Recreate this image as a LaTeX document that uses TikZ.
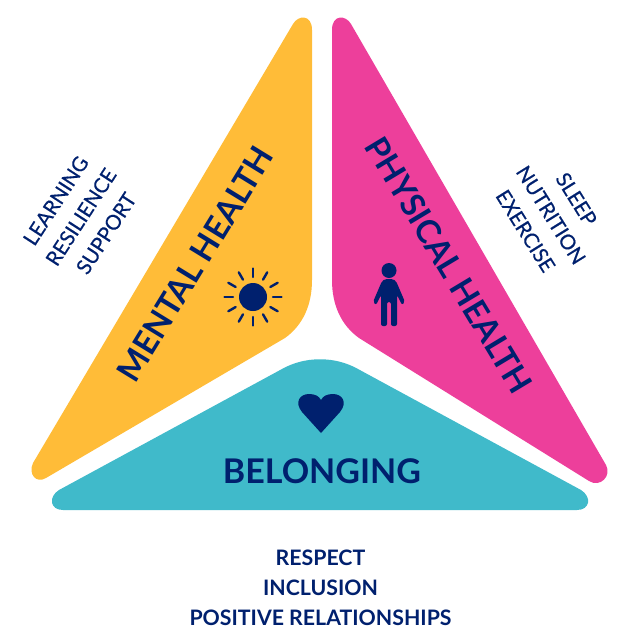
\documentclass[tikz,border=0pt]{standalone}
\usepackage{fontspec}
\setmainfont{Lato}
\newfontfamily\medfont[FakeBold=0.5]{Lato}
\usepackage{tikz}
\definecolor{mnavy}{RGB}{0, 32, 110}
\definecolor{myellow}{RGB}{255, 188, 56}
\definecolor{mpink}{RGB}{237, 63, 155}
\definecolor{mteal}{RGB}{64, 186, 202}
\tikzset{bigtext/.style = {text=mnavy, font=\fontsize{33}{33}\selectfont\bfseries},
         smalltext/.style = {text=mnavy, font=\fontsize{20.5}{30}\selectfont\medfont, align=center}}

\begin{document}
\begin{tikzpicture}[x=1pt, y=-1pt]
      \useasboundingbox (0, 0) rectangle (640, 640);

      \fill [myellow] (293, 24) .. controls (298, 15) and (312, 14) .. (312, 30) -- (312, 280) .. controls (312, 305) and (303, 325) .. (285, 338) -- (46, 478) .. controls (36, 484) and (28, 474) .. (33, 463) -- cycle;
      \fill [mpink] (351, 24) .. controls (346, 15) and (332, 14) .. (332, 30) -- (332, 280) .. controls (332, 305) and (341, 325) .. (359, 338) -- (589, 481) .. controls (600, 488) and (612, 476) .. (606, 465) -- cycle;
      \fill [mteal] (282, 369) .. controls (305, 356) and (335, 356) .. (358, 369) -- (581, 490) .. controls (592, 497) and (590, 510) .. (577, 510) -- (63, 510) .. controls (50, 510) and (48, 497) .. (59, 490) -- cycle;

      \node [bigtext, rotate=58.5] (mental) at (195, 264) {MENTAL HEALTH};
      \node [bigtext, rotate=-59] (physical) at (449, 265) {PHYSICAL HEALTH};
      \node [bigtext, font=\fontsize{34}{34}\selectfont\bfseries] (belonging) at (322, 471) {BELONGING};

      \node [smalltext, rotate=57] (mentalwords) at (81, 217) {LEARNING\\RESILIENCE\\SUPPORT};
      \node [smalltext, rotate=-58] (physicalwords) at (551, 215) {SLEEP\\NUTRITION\\EXERCISE};
      \node [smalltext, font=\fontsize{21.3}{30}\selectfont\bfseries] (belongingwords) at (320.5, 588) {RESPECT\\INCLUSION\\POSITIVE RELATIONSHIPS};

      \fill [mnavy] (253, 297) circle (14);
      \foreach \a in {0, 30, ..., 330}
        \draw [mnavy, line width=2.4pt, line cap=round] (253, 297) ++(\a:20) -- ++(\a:8.5);

      \fill [mnavy] (389, 270.5) circle (7.5);
      \fill [mnavy, rounded corners=2pt] (382, 281) -- (385, 279) -- (393, 279) -- (396, 281) -- (405, 302) -- (402, 305) -- (397, 295) -- (397, 326) -- (391, 326) -- (391, 302) -- (387, 302) -- (387, 326) -- (381, 326) -- (381, 295) -- (376, 305) -- (373, 302) -- cycle;

      \fill [mnavy] (321, 433) -- (302, 412) .. controls (294, 402) and (300, 394) .. (309, 394) .. controls (315, 394) and (319, 396) .. (321, 400) .. controls (323, 396) and (327, 394) .. (333, 394) .. controls (342, 394) and (348, 402) .. (340, 412) -- cycle;
\end{tikzpicture}
\end{document}
